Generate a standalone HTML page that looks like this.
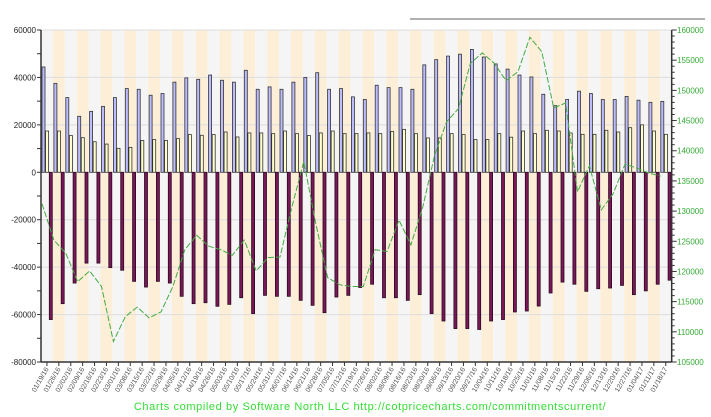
<!DOCTYPE html>
<html><head><meta charset="utf-8"><style>
html,body{margin:0;padding:0;background:#fff;}
svg{display:block;font-family:"Liberation Sans",sans-serif;}
</style></head><body>
<svg id="chart" width="711" height="417" viewBox="0 0 711 417" xmlns="http://www.w3.org/2000/svg">
<line x1="410" y1="19" x2="705" y2="19" stroke="#b0b0b0" stroke-width="2"/>
<g id="bands"></g><g id="grid"></g><g id="bars"></g><g id="line"></g><g id="axes"></g>
<text x="370" y="410" text-anchor="middle" font-size="11" fill="#33dd33" letter-spacing="0.6">Charts compiled by Software North LLC  http://cotpricecharts.com/commitmentscurrent/</text>
</svg>
<script>
const dates = ["01/19/16","01/26/16","02/02/16","02/09/16","02/16/16","02/23/16","03/01/16","03/08/16","03/15/16","03/22/16","03/29/16","04/05/16","04/12/16","04/19/16","04/26/16","05/03/16","05/10/16","05/17/16","05/24/16","05/31/16","06/07/16","06/14/16","06/21/16","06/28/16","07/05/16","07/12/16","07/19/16","07/26/16","08/02/16","08/09/16","08/16/16","08/23/16","08/30/16","09/06/16","09/13/16","09/20/16","09/27/16","10/04/16","10/11/16","10/18/16","10/25/16","11/01/16","11/08/16","11/15/16","11/22/16","11/29/16","12/06/16","12/13/16","12/20/16","12/27/16","01/04/17","01/11/17","01/18/17"];
const longPos = [44400,37500,31500,23600,25700,27800,31500,35300,35000,32500,33200,38000,39800,39200,41000,38800,38000,43000,35000,36000,35000,38000,40000,42000,35000,35300,31800,30700,36700,35700,35700,35000,45300,47500,49000,49800,51800,48600,45700,43500,41000,40200,32900,28100,30700,34200,33200,30700,30700,32000,30400,29500,29900];
const smallPos = [17400,17400,15500,14600,12900,11900,10100,10500,13400,13800,13400,14200,15900,15600,15900,17000,14900,16600,16600,16300,17400,16300,15500,16600,17400,16300,16300,16600,16300,17200,18100,16300,14500,14500,16300,15900,13800,13800,16300,14800,17400,16300,17700,17400,16600,16000,16000,17700,17000,18800,20000,17400,16000];
const shortPos = [-62100,-55400,-46700,-38300,-38300,-40200,-41300,-46000,-48400,-46000,-46700,-52300,-55400,-55000,-56500,-55700,-52900,-59600,-51900,-52300,-52300,-54000,-56100,-59200,-52600,-51900,-48600,-47200,-52900,-52900,-54000,-51600,-59600,-62700,-65900,-65900,-66300,-62700,-62100,-58900,-58500,-56400,-50900,-46300,-47200,-50200,-49100,-48800,-47700,-51600,-50000,-47200,-45500];
const price = [131200,125200,123000,118300,120100,117500,108400,112500,114100,112300,113300,117500,123600,126000,124200,123600,122700,125200,120100,122300,122400,130700,138200,128000,119000,117800,117500,117500,123600,123300,128500,124400,130700,139300,144800,147000,154500,156200,154500,151600,153100,158800,156400,147100,147900,133200,137500,130200,132900,137800,137100,136300,135800];
const leftTicks = [60000,40000,20000,0,-20000,-40000,-60000,-80000];
const rightTicks = [160000,155000,150000,145000,140000,135000,130000,125000,120000,115000,110000,105000];

const NS="http://www.w3.org/2000/svg";
const X0=41, P=11.9, TOP=30, BOT=362, XR=X0+P*dates.length;
function yL(v){return TOP+(60000-v)*(BOT-TOP)/140000;}
function yR(v){return TOP+(160000-v)*(BOT-TOP)/55000;}
function xC(i){return X0+P*i;}
function mk(tag,attrs,parent){const e=document.createElementNS(NS,tag);for(const k in attrs)e.setAttribute(k,attrs[k]);parent.appendChild(e);return e;}
const gB=document.getElementById('bands'),gG=document.getElementById('grid'),gBar=document.getElementById('bars'),gL=document.getElementById('line'),gA=document.getElementById('axes');

dates.forEach((d,i)=>{
  const r=mk('rect',{x:xC(i),y:TOP,width:P,height:BOT-TOP,fill:i%2?'#fdeed8':'#f5f5f5'},gB);
  
  
});
for(let v=-80000;v<=60000;v+=20000){
  const l=mk('line',{x1:X0,x2:XR,y1:yL(v),y2:yL(v),stroke:'#dddddd','stroke-width':1},gG);
  
  
}
dates.forEach((d,i)=>{
  const x=xC(i);
  const b=mk('rect',{x:x+1,y:yL(longPos[i]),width:3,height:yL(0)-yL(longPos[i]),fill:'#bcbcff',stroke:'#333','stroke-width':0.8},gBar);
  
  
  const s=mk('rect',{x:x+4.6,y:yL(smallPos[i]),width:3,height:yL(0)-yL(smallPos[i]),fill:'#ffffcc',stroke:'#333','stroke-width':0.8},gBar);
  
  
  const c=mk('rect',{x:x+8.3,y:yL(0),width:3,height:yL(shortPos[i])-yL(0),fill:'#7a1758',stroke:'#2a0a20','stroke-width':0.8},gBar);
  
  
});
const pts=price.map((v,i)=>(xC(i)+1)+','+yR(v).toFixed(1)).join(' ');
const pl=mk('polyline',{points:pts,fill:'none',stroke:'#44aa44','stroke-width':1,'stroke-dasharray':'6,2'},gL);



let ax=mk('line',{x1:X0,x2:X0,y1:TOP,y2:BOT,stroke:'#333','stroke-width':1.5},gA);


ax=mk('line',{x1:XR,x2:XR,y1:TOP,y2:BOT,stroke:'#333','stroke-width':1.5},gA);


ax=mk('line',{x1:X0,x2:XR,y1:BOT,y2:BOT,stroke:'#333','stroke-width':1.5},gA);


for(let v=-80000;v<=60000;v+=10000){
  const t=mk('line',{x1:X0-4,x2:X0,y1:yL(v),y2:yL(v),stroke:'#333'},gA);
  
  
}
leftTicks.forEach(v=>{
  const t=mk('text',{x:36,y:yL(v)+3,'text-anchor':'end','font-size':8,fill:'#222'},gA);
  t.textContent=String(v);
  
  
});
for(let v=105000;v<=160000;v+=1000){
  const t=mk('line',{x1:XR,x2:XR+(v%5000===0?5:3),y1:yR(v),y2:yR(v),stroke:'#333'},gA);
  
  
}
rightTicks.forEach(v=>{
  const t=mk('text',{x:677,y:yR(v)+3,'font-size':8,fill:'#33aa33'},gA);
  t.textContent=String(v);
  
  
});
dates.forEach((d,i)=>{
  const x=xC(i)+P/2;
  const tk=mk('line',{x1:x,x2:x,y1:BOT,y2:BOT+4,stroke:'#333'},gA);
  
  
  const t=mk('text',{x:x+2,y:BOT+7,'text-anchor':'end','font-size':7,fill:'#555',transform:'rotate(-60 '+(x+2)+' '+(BOT+7)+')'},gA);
  t.textContent=d;
  
  
});
</script>
</body></html>
